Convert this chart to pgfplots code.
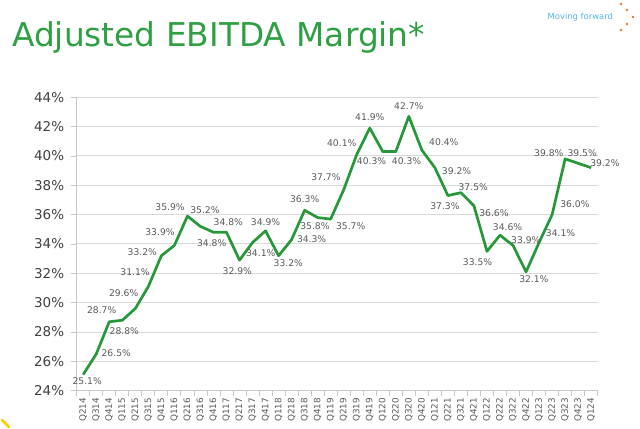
\documentclass[border=0pt]{standalone}
\usepackage{pgfplots}
\pgfplotsset{compat=1.18}
\usepackage{fontspec}
\setmainfont{DejaVu Sans}
\definecolor{titlegreen}{RGB}{46,160,67}
\definecolor{linegreen}{RGB}{38,152,58}
\definecolor{lblgray}{RGB}{89,89,89}
\definecolor{tickgray}{RGB}{64,64,64}
\definecolor{gridgray}{RGB}{217,217,217}
\definecolor{axgray}{RGB}{200,200,200}
\definecolor{mfblue}{RGB}{86,180,230}
\definecolor{dotorange}{RGB}{232,119,34}
\definecolor{cornery}{RGB}{255,204,0}
\begin{document}
\begin{tikzpicture}
\path (0pt,0pt) rectangle (640pt,428pt);
\node[anchor=base west, inner sep=0pt, text=titlegreen, font=\fontsize{32.8}{36}\selectfont] at (12pt,381pt) {Adjusted EBITDA Margin*};
\node[anchor=base west, inner sep=0pt, text=mfblue, font=\fontsize{8.4}{10}\selectfont] at (547.5pt,408pt) {Moving forward};
\foreach \p in {(621pt,424pt),(627pt,418pt),(633pt,411pt),(627pt,404pt),(621pt,398pt)}
  \fill[dotorange] \p circle (1.4pt);
\draw[cornery, line width=2.5pt, line cap=round] (2pt,8pt) -- (9pt,1pt);
\begin{axis}[
  at={(76.7pt,37.3pt)}, anchor=south west,
  scale only axis, width=521pt, height=293.4pt,
  xmin=-0.5, xmax=39.5, ymin=24, ymax=44,
  ytick={24,26,...,44},
  yticklabel={\pgfmathprintnumber{\tick}\%},
  /pgf/number format/assume math mode=true,
  xtick={0,...,39},
  minor xtick={-0.5,0.5,...,39.5},
  xticklabels={Q214,Q314,Q414,Q115,Q215,Q315,Q415,Q116,Q216,Q316,Q416,Q117,Q217,Q317,Q417,Q118,Q218,Q318,Q418,Q119,Q219,Q319,Q419,Q120,Q220,Q320,Q420,Q121,Q221,Q321,Q421,Q122,Q222,Q322,Q422,Q123,Q223,Q323,Q423,Q124},
  xticklabel style={rotate=90, anchor=east, font=\fontsize{8.8}{10}\selectfont, text=lblgray, inner sep=1pt},
  yticklabel style={font=\fontsize{13.5}{15}\selectfont, text=tickgray, xshift=-3pt},
  tick align=outside,
  major tick length=6pt, minor tick length=5pt,
  major x tick style={draw=none},
  tick style={draw=axgray, line width=0.8pt},
  axis x line*=bottom, axis y line*=left,
  axis line style={draw=axgray, line width=0.8pt, -},
  ymajorgrids,
  major grid style={draw=gridgray, line width=1pt},
  clip=false,
]
\addplot[linegreen, line width=2.7pt, line join=round, mark=none,
  nodes near coords={\pgfmathprintnumber[fixed,fixed zerofill,precision=1]{\pgfplotspointmeta}\%},
  visualization depends on={\thisrow{dx} \as \labdx},
  visualization depends on={\thisrow{dy} \as \labdy},
  every node near coord/.append style={anchor=center, inner sep=0pt, text=lblgray, font=\fontsize{9.2}{10}\selectfont, xshift=\labdx pt, yshift=\labdy pt},
] table[x=x, y=y] {
x y dx dy
0 25.1 4 -7
1 26.5 20 1
2 28.7 -7.6 11.4
3 28.8 2 -10.4
4 29.6 -11.6 15.2
5 31.1 -13.3 14.2
6 33.2 -19 4
7 33.9 -14.4 13.2
8 35.9 -17.4 9.1
9 35.2 4.5 16.7
10 34.8 -1.8 -10.4
11 34.8 1.8 10.6
12 32.9 -2.2 -10.6
13 34.1 8.2 -10.2
14 34.9 0 8.5
15 33.2 9.7 -7
16 34.3 20 0
17 36.3 0 11.3
18 35.8 -2.7 -9
19 35.7 20 -7
20 37.7 -17.8 13
21 40.1 -15 11.8
22 41.9 0 11.4
23 40.3 -11.2 -9.7
24 40.3 10.8 -9.7
25 42.7 0 10.7
26 40.4 22 8
27 39.2 21.7 -3.3
28 37.3 -3 -11
29 37.5 12.3 6
30 36.6 20 -7.4
31 33.5 -9.4 -10.4
32 34.6 7.5 7.9
33 33.9 12.8 5.5
34 32.1 7.8 -7.1
35 34.1 21.5 9.2
36 36.0 22.8 10.3
37 39.8 -16.3 6.2
38 39.5 4 10
39 39.2 13.7 4.4
};
\end{axis}
\end{tikzpicture}
\end{document}
